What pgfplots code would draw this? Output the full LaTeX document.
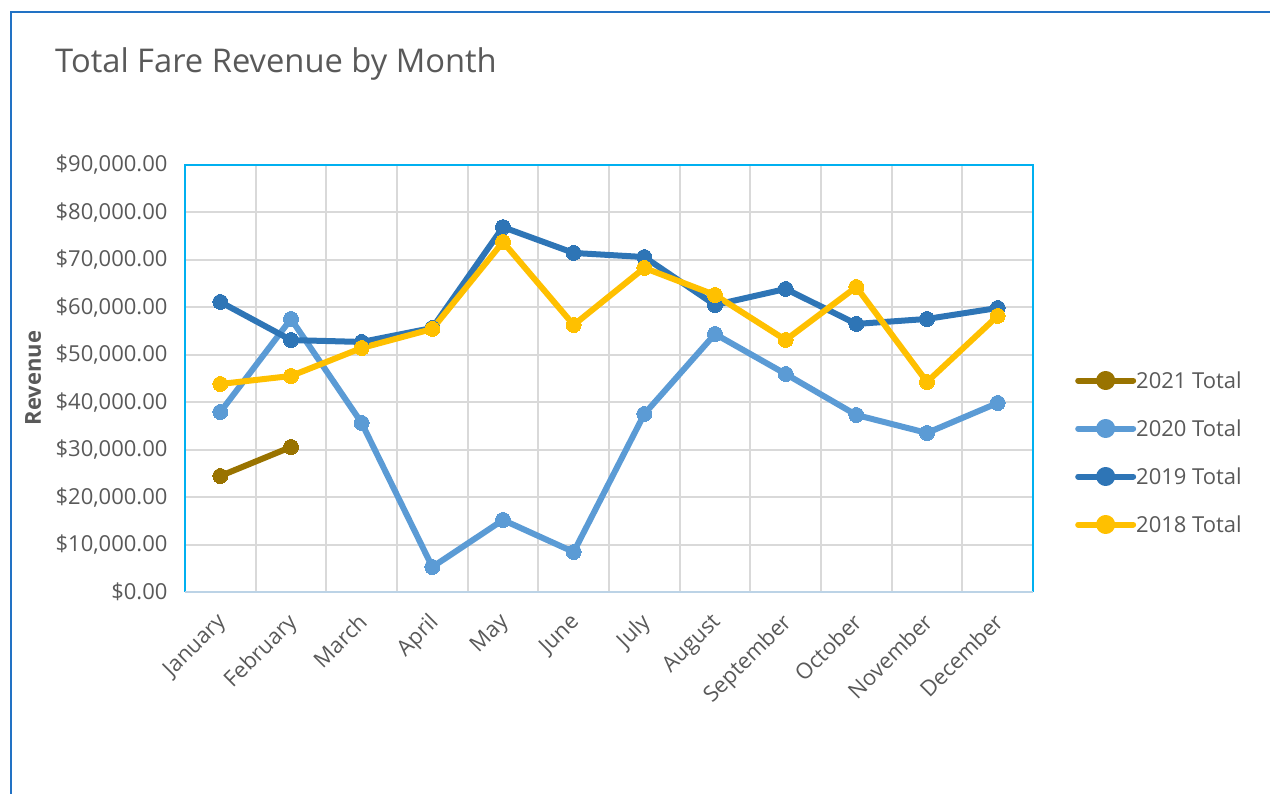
\documentclass[border=0pt]{standalone}
\usepackage{pgfplots}
\pgfplotsset{compat=1.18}
\usepackage{fontspec}
\setmainfont{Open Sans}
\definecolor{c2021}{HTML}{997300}
\definecolor{c2020}{HTML}{5B9BD5}
\definecolor{c2019}{HTML}{2E75B6}
\definecolor{c2018}{HTML}{FFC000}
\definecolor{txt}{HTML}{595959}
\definecolor{gridc}{HTML}{D9D9D9}
\definecolor{frame}{HTML}{00B0F0}
\definecolor{outer}{HTML}{2272C4}
\begin{document}
\begin{tikzpicture}[x=1pt,y=1pt]
\useasboundingbox (0,0) rectangle (1270,794);
\draw[outer, line width=2pt] (11,0) -- (11,782) -- (1270,782);
\node[anchor=base west, text=txt, inner sep=0pt, font=\fontsize{32.7}{39}\selectfont] at (55,721) {Total Fare Revenue by Month};
\begin{axis}[
  at={(185pt,202pt)}, anchor=south west,
  scale only axis, width=848pt, height=427pt,
  xmin=-0.5, xmax=11.5, ymin=0, ymax=90000,
  scaled y ticks=false,
  xtick={0,...,11},
  xticklabels={January,February,March,April,May,June,July,August,September,October,November,December},
  minor xtick={-0.5,0.5,...,11.5},
  xminorgrids, xmajorgrids=false,
  ytick={0,10000,...,90000},
  yticklabels={{\$0.00},{\$10,000.00},{\$20,000.00},{\$30,000.00},{\$40,000.00},{\$50,000.00},{\$60,000.00},{\$70,000.00},{\$80,000.00},{\$90,000.00}},
  ymajorgrids,
  major tick length=0pt, minor tick length=0pt,
  grid style={gridc, line width=2pt},
  minor grid style={gridc, line width=2pt},
  axis line style={draw=none},
  tick label style={text=txt, font=\fontsize{22}{26}\selectfont},
  yticklabel style={xshift=-14pt},
  xticklabel style={rotate=45, anchor=north east, xshift=-14pt, yshift=-7pt},
  ylabel={Revenue},
  ylabel style={at={(axis description cs:-0.179,0.501)}, anchor=center, rotate=0, text=txt, font=\fontsize{22}{26}\selectfont\bfseries},
  legend style={at={(1.0495,0.518)}, anchor=north west, draw=none, fill=none, inner sep=0pt,
    row sep=29pt, font=\fontsize{22}{26}\selectfont, text=txt,
    cells={anchor=west}, nodes={inner xsep=0pt, inner ysep=0pt}},
  legend image code/.code={\draw[#1, line width=6pt, line cap=round] (0pt,0pt) -- (55pt,0pt); \fill[#1] (27.5pt,0pt) circle (6.5pt);},
  every axis plot/.append style={line width=6pt, mark=*, mark size=7.5pt, line join=round},
  clip=false,
]
\addplot[color=c2021, mark options={fill=c2021, draw=c2021, line width=0pt}] coordinates {(0,24450) (1,30560)};
\addlegendentry{2021 Total}
\addplot[color=c2020, mark options={fill=c2020, draw=c2020, line width=0pt}] coordinates {
(0,37940) (1,57550) (2,35620) (3,5270) (4,15180) (5,8430) (6,37520) (7,54380) (8,45950) (9,37310) (10,33520) (11,39840)};
\addlegendentry{2020 Total}
\addplot[color=c2019, mark options={fill=c2019, draw=c2019, line width=0pt}] coordinates {
(0,61130) (1,53100) (2,52700) (3,55650) (4,76900) (5,71460) (6,70600) (7,60500) (8,63870) (9,56500) (10,57550) (11,59860)};
\addlegendentry{2019 Total}
\addplot[color=c2018, mark options={fill=c2018, draw=c2018, line width=0pt}] coordinates {
(0,43840) (1,45530) (2,51430) (3,55440) (4,73780) (5,56280) (6,68300) (7,62600) (8,53120) (9,64290) (10,44270) (11,58180)};
\addlegendentry{2018 Total}
\draw[frame, line width=1.5pt] (rel axis cs:0,0) -- (rel axis cs:0,1) -- (rel axis cs:1,1) -- (rel axis cs:1,0);
\draw[color={rgb,255:red,188;green,211;blue,230}, line width=2pt] (rel axis cs:0,0) -- (rel axis cs:1,0);
\end{axis}
\end{tikzpicture}
\end{document}
